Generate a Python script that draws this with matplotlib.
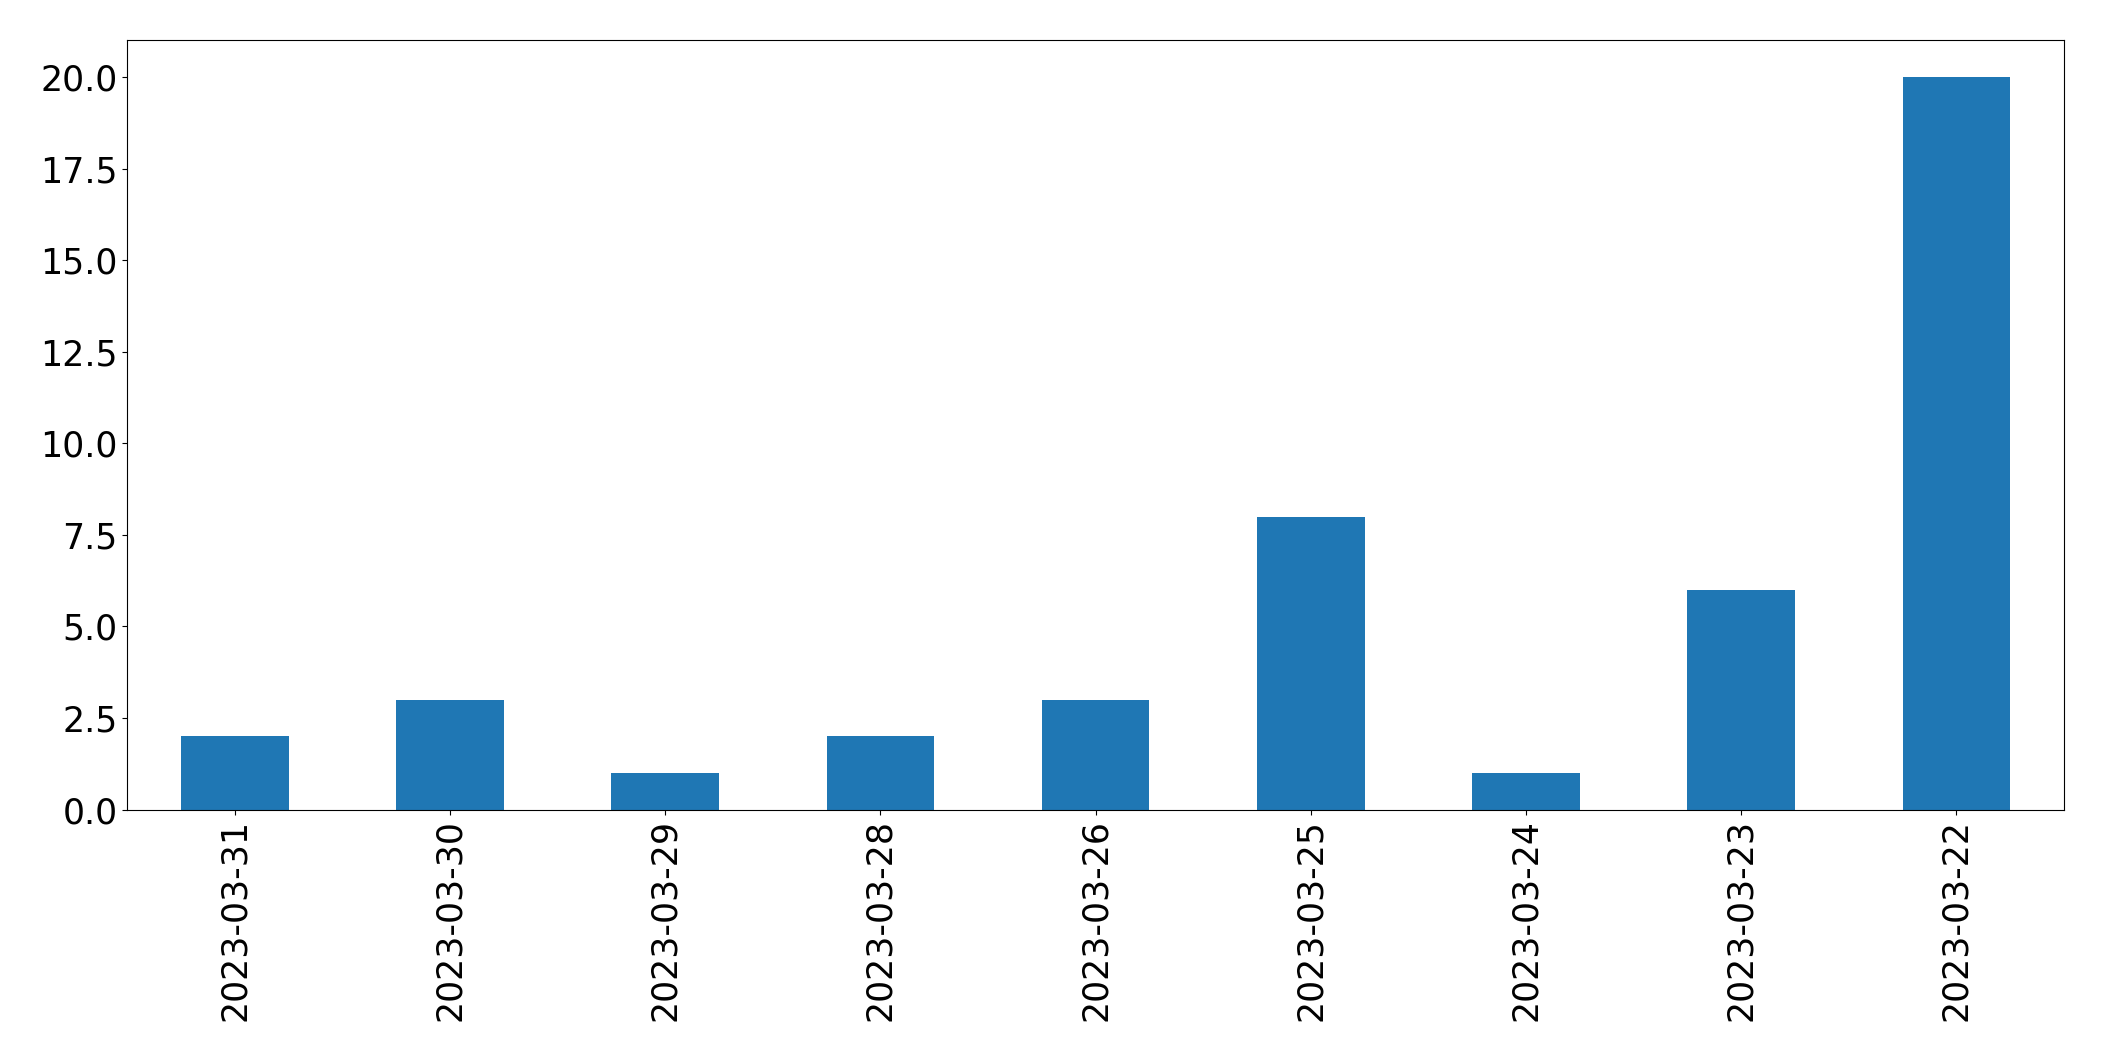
import matplotlib
matplotlib.use("Agg")
import matplotlib.pyplot as plt
import numpy as np

dates = ["2023-03-31", "2023-03-30", "2023-03-29", "2023-03-28", "2023-03-26",
         "2023-03-25", "2023-03-24", "2023-03-23", "2023-03-22"]
counts = [2, 3, 1, 2, 3, 8, 1, 6, 20]

fig = plt.figure(figsize=(21.04, 10.61), dpi=100)
ax = fig.add_axes([0.0605, 0.237, 0.9205, 0.725])
x = np.arange(len(dates))
ax.bar(x, counts, width=0.5, color="#1f77b4")
ax.set_xticks(x)
ax.set_xticklabels(dates, rotation=90)
ax.set_xlim(-0.5, len(dates) - 0.5)
ax.set_ylim(0, 21)
ax.set_yticks(np.arange(0, 20.01, 2.5))
ax.set_yticklabels([f"{v:.1f}" for v in np.arange(0, 20.01, 2.5)])
ax.tick_params(labelsize=25)
fig.savefig("out.png", dpi=100)
